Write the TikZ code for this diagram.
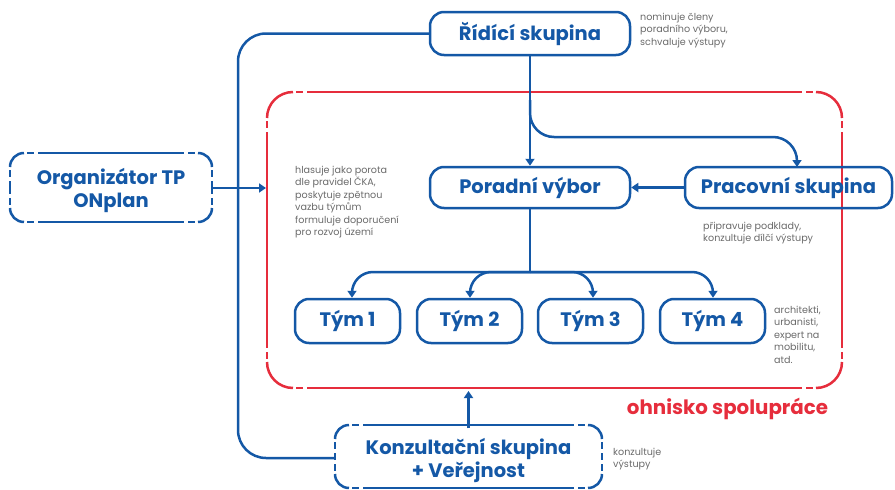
\documentclass[tikz,border=0pt]{standalone}
\usepackage{fontspec}
\setmainfont{Poppins}
\usetikzlibrary{arrows.meta}
\definecolor{cblue}{HTML}{1458A6}
\definecolor{cred}{HTML}{E62D3C}
\definecolor{cgray}{HTML}{6A6A6A}
\newcommand{\cdrect}[6]{%
  \draw[#1,rounded corners=#6] (#2,#3+#6) |- (#2+#6,#3);
  \draw[#1,rounded corners=#6] (#4-#6,#3) -| (#4,#3+#6);
  \draw[#1,rounded corners=#6] (#4,#5-#6) |- (#4-#6,#5);
  \draw[#1,rounded corners=#6] (#2+#6,#5) -| (#2,#5-#6);
  % top and bottom
  \foreach \yy in {#3,#5}{
    \draw[#1] (#2+#6+3,\yy) -- (#2+#6+10,\yy);
    \draw[#1] (#2+#6+14,\yy) -- (#4-#6-14,\yy);
    \draw[#1] (#4-#6-10,\yy) -- (#4-#6-3,\yy);
  }
  % left and right
  \foreach \xx in {#2,#4}{
    \draw[#1] (\xx,#3+#6+3) -- (\xx,#3+#6+10);
    \draw[#1] (\xx,#3+#6+14) -- (\xx,#5-#6-14);
    \draw[#1] (\xx,#5-#6-10) -- (\xx,#5-#6-3);
  }
}
\tikzset{
  conn/.style={draw=cblue,line width=2.5pt},
  arr/.style={conn,-{Triangle[length=7pt,width=9pt]}},
  box/.style={draw=cblue,line width=2.5pt,rounded corners=14pt,text=cblue,
    font=\fontsize{19.5}{23}\selectfont\bfseries,inner sep=0pt},
  freebox/.style={text=cblue,align=center,
    font=\fontsize{19.5}{23}\selectfont\bfseries,inner sep=0pt},
  note/.style={text=cgray,align=left,anchor=north west,inner sep=0pt,
    font=\fontsize{9.6}{12.4}\selectfont},
  redline/.style={draw=cred,line width=2.5pt},
  blueline/.style={draw=cblue,line width=2.5pt},
}
\begin{document}
\begin{tikzpicture}[x=1pt,y=-1pt]
\useasboundingbox (0,0) rectangle (895,490);
% red focus area
\cdrect{redline}{267}{92}{842}{388}{26}
\coordinate (redL) at (267,188);
\coordinate (redB) at (468.5,388);
\node[text=cred,font=\fontsize{19.8}{23}\selectfont\bfseries,inner sep=0pt] (ohn) at (727.5,409) {ohnisko spolupráce};
% boxes
\node[box,minimum width=200pt,minimum height=43pt] (rid) at (530,33.5) {Řídící skupina};
\node[box,minimum width=200pt,minimum height=41pt] (por) at (530,187.5) {Poradní výbor};
\node[box,minimum width=207pt,minimum height=41pt] (pra) at (788.5,187.5) {Pracovní skupina};
\node[box,minimum width=105pt,minimum height=44pt] (t1) at (347.5,321) {Tým 1};
\node[box,minimum width=105pt,minimum height=44pt] (t2) at (469.5,321) {Tým 2};
\node[box,minimum width=105pt,minimum height=44pt] (t3) at (590.5,321) {Tým 3};
\node[box,minimum width=105pt,minimum height=44pt] (t4) at (712.5,321) {Tým 4};
% dashed boxes
\node[freebox,minimum width=202pt,minimum height=69pt] (org) at (111,190) {Organizátor TP\\ONplan};
\cdrect{blueline}{10}{153}{212}{222}{14}
\node[freebox,minimum width=267pt,minimum height=63pt] (kon) at (468.5,460) {Konzultační skupina\\+ Veřejnost};
\cdrect{blueline}{335}{425}{602}{488}{14}
% notes
\node[note] (n1) at (640,13) {nominuje členy\\poradního výboru,\\schvaluje výstupy};
\node[note] (n2) at (295,166) {hlasuje jako porota\\dle pravidel ČKA,\\poskytuje zpětnou\\vazbu týmům\\formuluje doporučení\\pro rozvoj území};
\node[note] (n3) at (703,222) {připravuje podklady,\\konzultuje dílčí výstupy};
\node[note] (n4) at (774,306) {architekti,\\urbanisti,\\expert na\\mobilitu,\\atd.};
\node[note] (n5) at (613,448) {konzultuje\\výstupy};
% connectors
\coordinate (kL) at (335,458);
\draw[conn,rounded corners=28pt] (rid.west) -| (238,300) |- (kL);
\draw[arr,shorten >=1pt] (org.east |- redL) -- (redL);
\draw[arr] (rid.south) -- (por.north);
\coordinate (br) at (530,100);
\coordinate (praT) at (797,167);
\draw[arr,rounded corners=24pt] (br) |- (praT |- 0,137) -- (praT);
\draw[arr] (pra.west) -- (por.east);
\coordinate (tj) at (530,272);
\draw[conn] (por.south) -- (tj);
\draw[arr,rounded corners=21pt] (tj) -| (t1.north -| 352,0);
\draw[arr,rounded corners=21pt] (tj) -| (t2.north -| 470,0);
\draw[arr,rounded corners=21pt] (tj) -| (t3.north -| 593,0);
\draw[arr,rounded corners=21pt] (tj) -| (t4.north -| 713,0);
\draw[arr,shorten >=3pt] (kon.north) -- (redB);
\end{tikzpicture}
\end{document}
